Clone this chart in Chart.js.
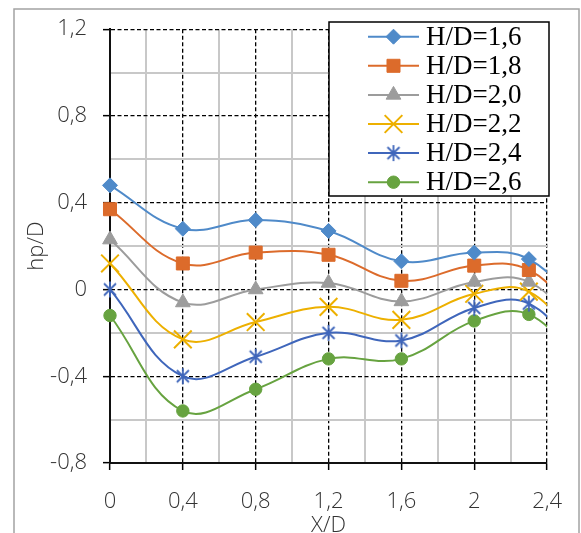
<!DOCTYPE html>
<html>
<head>
<meta charset="utf-8">
<script src="https://cdn.jsdelivr.net/npm/chart.js@4.4.1/dist/chart.umd.min.js"></script>
<style>
  html, body { margin: 0; padding: 0; background: #fff; }
  #wrap { position: relative; width: 581px; height: 533px; }
</style>
</head>
<body>
<div id="wrap"><canvas id="chart" width="581" height="533"></canvas></div>
<script>
// ---- DATA ----
const xValues = [0, 0.4, 0.8, 1.2, 1.6, 2.0, 2.3, 2.6];
const hd16 = [0.48, 0.28, 0.32, 0.27, 0.13, 0.17, 0.14, -0.10];
const hd18 = [0.37, 0.12, 0.17, 0.16, 0.04, 0.11, 0.09, -0.15];
const hd20 = [0.23, -0.06, 0.00, 0.03, -0.055, 0.035, 0.035, -0.20];
const hd22 = [0.12, -0.23, -0.15, -0.08, -0.14, -0.02, -0.01, -0.28];
const hd24 = [0.00, -0.40, -0.31, -0.20, -0.235, -0.085, -0.065, -0.33];
const hd26 = [-0.12, -0.56, -0.46, -0.32, -0.32, -0.145, -0.115, -0.37];
const seriesNames = ['H/D=1,6', 'H/D=1,8', 'H/D=2,0', 'H/D=2,2', 'H/D=2,4', 'H/D=2,6'];
const xTickLabels = ['0', '0,4', '0,8', '1,2', '1,6', '2', '2,4'];
const yTickLabels = ['-0,8', '-0,4', '0', '0,4', '0,8', '1,2'];

// ---- MARKERS ----
// excel-like asterisk (vertical bar + X), no horizontal spoke
function makeAsterisk(color) {
  const c = document.createElement('canvas');
  c.width = 20; c.height = 20;
  const g = c.getContext('2d');
  g.strokeStyle = color;
  g.lineWidth = 1.8;
  g.beginPath();
  g.moveTo(10, 2); g.lineTo(10, 18);
  g.moveTo(4, 4); g.lineTo(16, 16);
  g.moveTo(16, 4); g.lineTo(4, 16);
  g.stroke();
  return c;
}

const styles = [
  { color: '#4f8ac9', point: 'rectRot', radius: 7.5 },
  { color: '#dc6b2b', point: 'rect', radius: 9.2 },
  { color: '#9c9c9c', point: 'triangle', radius: 8.5 },
  { color: '#edb000', point: 'crossRot', radius: 12.5 },
  { color: '#3f66bb', point: makeAsterisk('#3f66bb'), radius: 8 },
  { color: '#67a340', point: 'circle', radius: 6.2 },
];

const allSeries = [hd16, hd18, hd20, hd22, hd24, hd26];

const datasets = allSeries.map((vals, i) => ({
  label: seriesNames[i],
  data: xValues.map((x, j) => ({ x, y: vals[j] })),
  borderColor: styles[i].color,
  backgroundColor: styles[i].color,
  pointBackgroundColor: styles[i].color,
  pointBorderColor: styles[i].color,
  pointStyle: styles[i].point,
  pointRadius: styles[i].radius,
  pointHoverRadius: styles[i].radius,
  pointBorderWidth: (styles[i].point === 'crossRot') ? 2 : 1,
  borderWidth: 2,
  tension: 0.4,
  fill: false,
  clip: { left: 15, top: 15, right: 0, bottom: 15 },
}));

const tickFont = { family: '"Open Sans", "Noto Sans", sans-serif', size: 22, weight: 300 };
const major = ctx => ctx.index % 2 === 0;

// ---- PLUGINS ----
const frame = {
  id: 'frame',
  beforeDraw(chart) {
    const ctx = chart.ctx;
    ctx.save();
    ctx.strokeStyle = '#a3a3a3';
    ctx.lineWidth = 1.5;
    ctx.strokeRect(14, 9, 565, 700);
    ctx.restore();
  },
};

const boxLegend = {
  id: 'boxLegend',
  afterDatasetsDraw(chart) {
    const ctx = chart.ctx;
    const left = 329, top = 22, right = 549, bottom = 196;
    ctx.save();
    ctx.fillStyle = '#fff';
    ctx.fillRect(left, top, right - left, bottom - top);
    ctx.strokeStyle = '#000';
    ctx.lineWidth = 1.5;
    ctx.strokeRect(left, top, right - left, bottom - top);
    ctx.font = '27px "Liberation Serif", "Times New Roman", serif';
    ctx.textBaseline = 'middle';
    chart.data.datasets.forEach((ds, i) => {
      const y = 36.7 + i * 29.1;
      ctx.strokeStyle = ds.borderColor;
      ctx.lineWidth = 2;
      ctx.beginPath();
      ctx.moveTo(368, y);
      ctx.lineTo(419, y);
      ctx.stroke();
      ctx.fillStyle = ds.pointBackgroundColor;
      ctx.strokeStyle = ds.pointBorderColor;
      ctx.lineWidth = ds.pointBorderWidth;
      if (Chart.helpers && Chart.helpers.drawPoint) {
        Chart.helpers.drawPoint(ctx, {
          pointStyle: ds.pointStyle, radius: ds.pointRadius, rotation: 0, borderWidth: ds.pointBorderWidth,
        }, 393.5, y);
      }
      ctx.fillStyle = '#000';
      ctx.fillText(ds.label, 426, y + 1);
    });
    ctx.restore();
  },
};

// ---- CHART ----
new Chart(document.getElementById('chart'), {
  type: 'line',
  data: { datasets },
  plugins: [frame, boxLegend],
  options: {
    responsive: false,
    animation: false,
    events: [],
    layout: { padding: { left: 0, right: 33, top: 26, bottom: 0 } },
    plugins: { legend: { display: false }, tooltip: { enabled: false } },
    scales: {
      x: {
        type: 'linear',
        min: 0,
        max: 2.4,
        afterFit: s => { s.height = 70; },
        ticks: {
          stepSize: 0.2,
          autoSkip: false,
          maxRotation: 0,
          padding: 19,
          color: '#333',
          font: tickFont,
          callback: (v, i) => (i % 2 === 0 ? xTickLabels[i / 2] : ''),
        },
        grid: {
          color: ctx => (ctx.index === 0 ? 'rgba(0,0,0,0)' : major(ctx) ? '#000' : '#c8c8c8'),
          lineWidth: ctx => (major(ctx) ? 1.3 : 2),
          tickColor: ctx => (major(ctx) ? '#000' : 'rgba(0,0,0,0)'),
          tickLength: 7,
          tickWidth: 1.5,
          tickBorderDash: [],
        },
        border: { color: '#111', width: 2, dash: ctx => (ctx.type === 'tick' && major(ctx) ? [4, 2.5] : []) },
        title: {
          display: true,
          text: 'X/D',
          color: '#333',
          font: { family: '"Open Sans", "Noto Sans", sans-serif', size: 22, weight: 300, lineHeight: 1 },
          padding: { top: 0, bottom: -4 },
        },
      },
      y: {
        min: -0.8,
        max: 1.2,
        afterFit: s => { s.width = 110; },
        ticks: {
          stepSize: 0.2,
          autoSkip: false,
          padding: 16,
          color: '#333',
          font: tickFont,
          callback: (v, i) => (i % 2 === 0 ? yTickLabels[i / 2] : ''),
        },
        grid: {
          color: ctx => (ctx.index === 0 ? 'rgba(0,0,0,0)' : major(ctx) ? '#000' : '#c8c8c8'),
          lineWidth: ctx => (major(ctx) ? 1.3 : 2),
          tickColor: ctx => (major(ctx) ? '#000' : 'rgba(0,0,0,0)'),
          tickLength: 7,
          tickWidth: 1.5,
          tickBorderDash: [],
        },
        border: { color: '#111', width: 2, dash: ctx => (ctx.type === 'tick' && major(ctx) ? [4, 2.5] : []) },
        title: {
          display: true,
          text: 'hp/D',
          color: '#333',
          font: { family: '"Open Sans", "Noto Sans", sans-serif', size: 22, weight: 300, lineHeight: 1.2 },
          padding: { top: 24, bottom: 0 },
        },
      },
    },
  },
});
</script>
</body>
</html>
